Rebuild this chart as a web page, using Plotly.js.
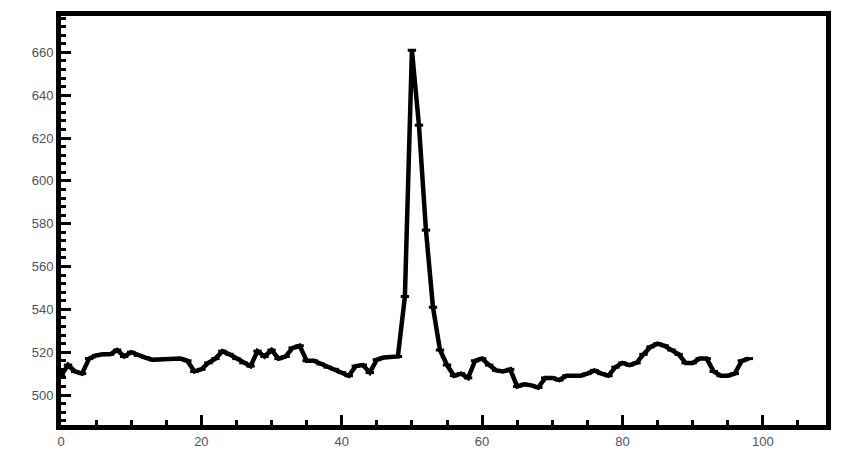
<!DOCTYPE html>
<html>
<head>
<meta charset="utf-8">
<script src="https://cdn.plot.ly/plotly-3.0.1.min.js"></script>
<style>html,body{margin:0;padding:0;background:#fff;}#chart{width:841px;height:458px;}</style>
</head>
<body>
<div id="chart"></div>
<script>
// Sample index (x) and measured value (y)
const xValues = [];
for (let i = 0; i <= 98; i++) xValues.push(i);
const yValues = [
  509, 514, 511, 510, 517, 518.5, 519, 519, 521, 518,
  520, 518.5, 517.5, 516.5, 516.5, 517, 517, 517, 516, 511,
  512, 515, 517, 520.5, 519, 517, 515, 513.5, 520.5, 518,
  521, 517, 518, 522, 523, 516, 516, 514.5, 513, 512,
  510.5, 509, 513.5, 514, 510.5, 516.5, 517.5, 518, 518, 546,
  661, 626, 577, 541, 521, 514, 509, 510, 508, 516,
  517, 514, 511.5, 511, 512, 504, 505, 504.5, 503.5, 508,
  508, 507, 509, 509, 509, 510, 511.5, 510, 509, 513,
  515, 514, 515, 519, 522.5, 524, 523, 521, 519, 515,
  515, 517, 517, 511, 509, 509, 510, 516, 517
];
const xTickVals = [0, 20, 40, 60, 80, 100];
const yTickVals = [500, 520, 540, 560, 580, 600, 620, 640, 660];

const trace = {
  x: xValues,
  y: yValues,
  type: 'scatter',
  mode: 'lines+markers',
  line: {color: '#000', width: 4.5},
  marker: {symbol: 'line-ew', size: 6, line: {color: '#000', width: 3}},
  hoverinfo: 'none'
};

const layout = {
  width: 841,
  height: 458,
  margin: {l: 61, r: 15, t: 16, b: 33},
  paper_bgcolor: '#fff',
  plot_bgcolor: '#fff',
  showlegend: false,
  font: {family: 'Liberation Sans, Arial, sans-serif', size: 13, color: '#50505c'},
  xaxis: {
    range: [0, 109],
    tickmode: 'array',
    tickvals: xTickVals,
    ticktext: xTickVals.map(String),
    ticks: 'inside',
    ticklen: 10,
    tickwidth: 3,
    tickcolor: '#000',
    minor: {dtick: 5, ticks: 'inside', ticklen: 5, tickwidth: 3, tickcolor: '#000'},
    showline: true,
    linewidth: 5,
    linecolor: '#000',
    mirror: true,
    showgrid: false,
    zeroline: false,
    ticklabelstandoff: 0
  },
  yaxis: {
    range: [486, 677],
    tickmode: 'array',
    tickvals: yTickVals,
    ticktext: yTickVals.map(String),
    ticks: 'inside',
    ticklen: 10,
    tickwidth: 3,
    tickcolor: '#000',
    minor: {dtick: 4, tick0: 500, ticks: 'inside', ticklen: 5, tickwidth: 3, tickcolor: '#000'},
    showline: true,
    linewidth: 5,
    linecolor: '#000',
    mirror: true,
    showgrid: false,
    zeroline: false
  }
};

Plotly.newPlot('chart', [trace], layout, {staticPlot: true, displayModeBar: false});
</script>
</body>
</html>
